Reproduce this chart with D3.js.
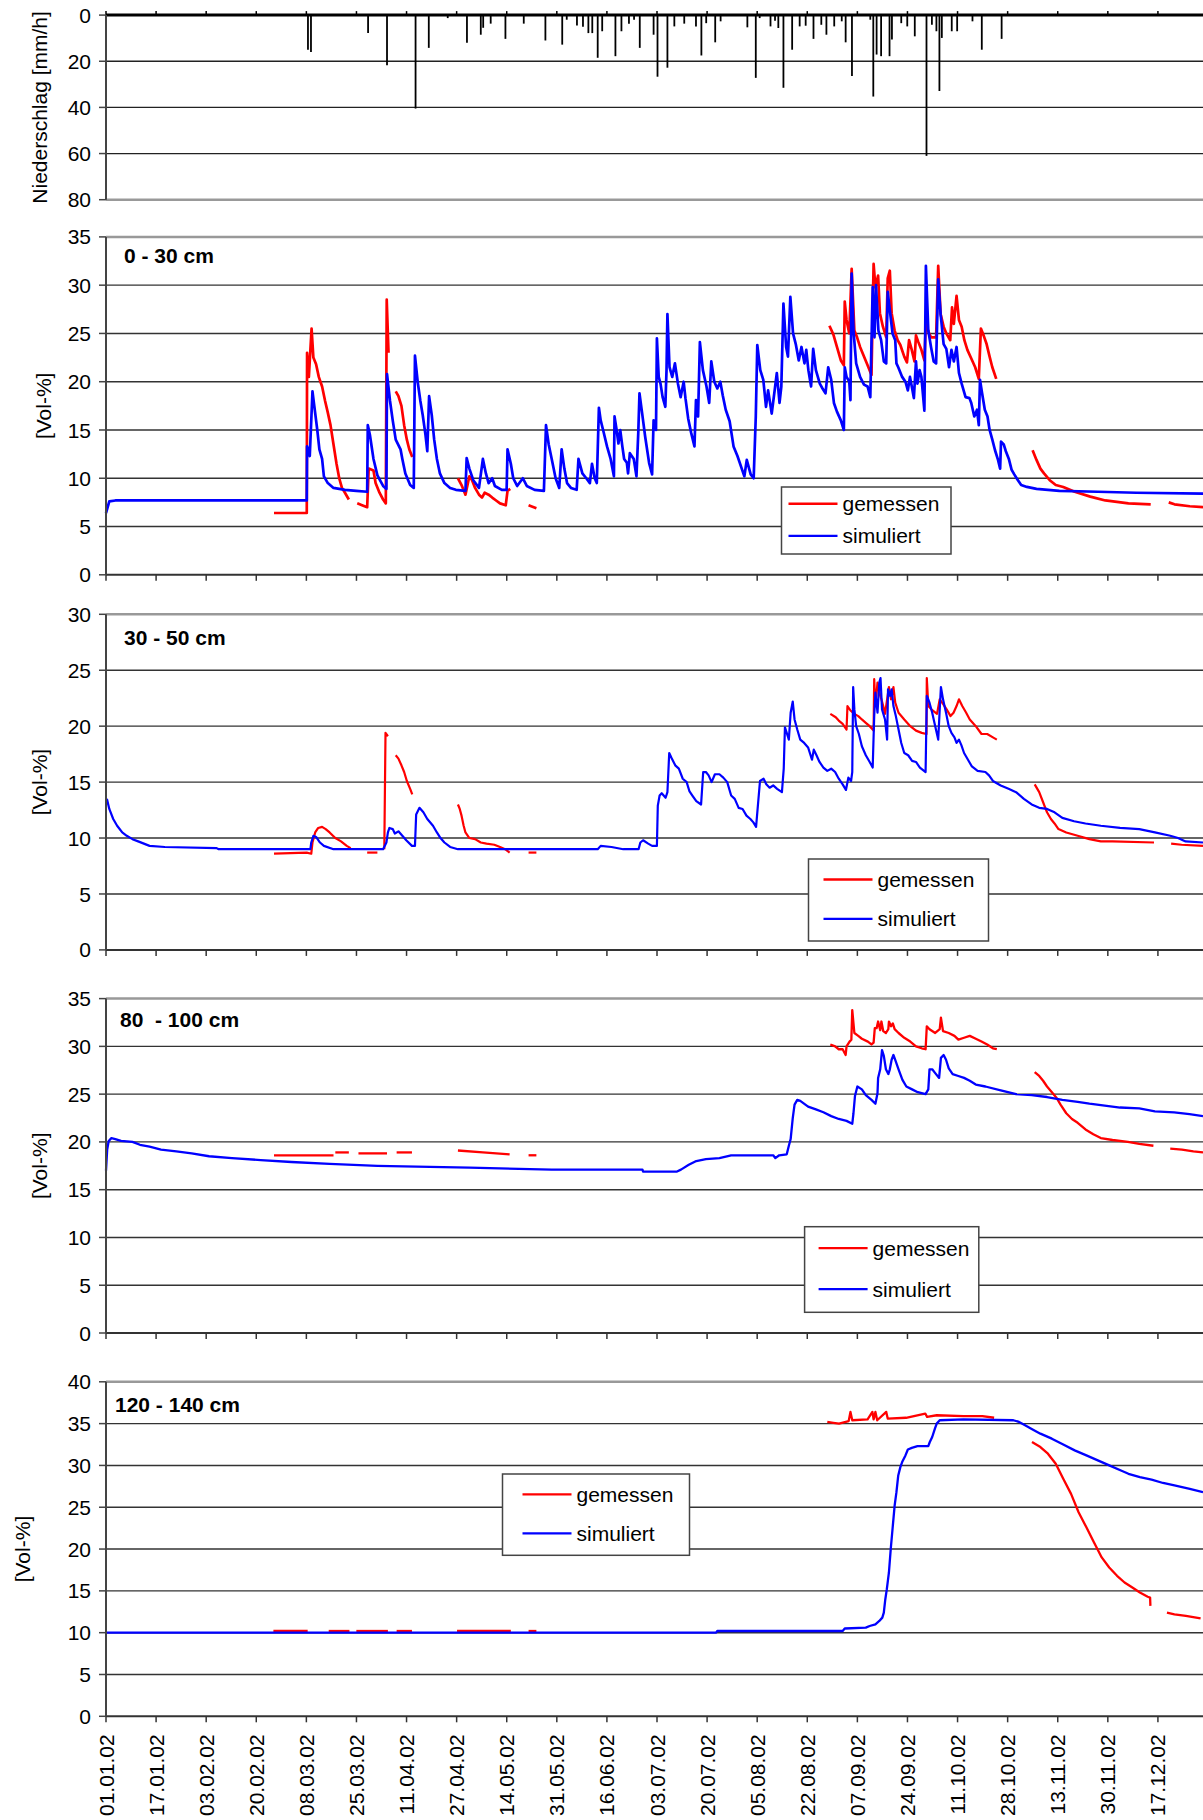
<!DOCTYPE html>
<html>
<head>
<meta charset="utf-8">
<script src="https://cdn.jsdelivr.net/npm/d3@7"></script>
<style>
  body { margin: 0; background: #fff; }
  svg { display: block; }
  text { font-family: "Liberation Sans", Arial, sans-serif; fill: #000; }
</style>
</head>
<body>
<svg id="chart" width="1203" height="1820"></svg>
<script>
// x axis: one tick every 400 hours, labels as printed
const tickLabels = ["01.01.02","17.01.02","03.02.02","20.02.02","08.03.02","25.03.02","11.04.02","27.04.02",
  "14.05.02","31.05.02","16.06.02","03.07.02","20.07.02","05.08.02","22.08.02","07.09.02","24.09.02",
  "11.10.02","28.10.02","13.11.02","30.11.02","17.12.02"];

// precipitation [day of year, mm/h]
const precip = [[67.2,15],[68.2,16],[87.2,7.8],[93.5,21.7],[103,40.5],[107.4,14.2],[113.7,1.3],[120.1,12],
  [124.7,8.5],[125.5,5.5],[128,3.7],[132.9,10.3],[139,3.7],[146.2,11],[151.8,12.8],[153.3,2],[156.7,4.5],
  [158.7,5],[160.5,7.8],[161.8,7.8],[163.6,18.5],[165.1,7],[169.5,17.8],[171.5,7],[174,3.7],[175.7,2],
  [177.6,14.2],[182.2,8.5],[183.5,26.7],[186.8,22.8],[189.1,4.9],[192.4,3.7],[196.3,4.9],[198.1,17.5],
  [199.7,3.5],[202.7,11.8],[204.5,2.7],[213.4,5.3],[216.2,27.2],[217.5,1.3],[221.1,4.9],[222.6,2.5],
  [223.7,5.6],[225.4,31.5],[228.3,15],[230.8,4.9],[232.8,4.6],[235.4,10.3],[238,4.2],[239.7,8.5],
  [242.3,4.9],[244.8,2.7],[246.1,11.8],[248.2,26.4],[254.3,2],[255.3,35.3],[256.4,17.1],[257.9,17.8],
  [260.7,17.8],[261.5,10.6],[264.6,3.5],[266.6,4.9],[269.1,9.2],[273,61],[274.8,4.2],[276.3,7],
  [277.3,32.9],[278.1,9.9],[281.4,7],[283.2,7],[288.3,2.7],[291.4,15],[298,10.3]];

// 0 - 30 cm  [day, Vol-%]
const simA = [[0,6.4],[1.1,7.6],[3.1,7.7],[66.8,7.7],[66.9,13.3],[67.8,12.3],[68.7,19.0],[69.3,17.5],[70.3,15.0],
  [71.0,13.0],[71.9,12.0],[72.5,10.2],[73.8,9.5],[75.7,9.0],[79.5,8.8],[83.3,8.7],[86.9,8.6],[87.1,15.5],
  [87.8,14.5],[89.0,12.0],[90.3,10.3],[92.2,9.2],[93.3,8.9],[93.5,20.8],[94.5,18.0],[95.4,16.0],[96.4,14.0],
  [98.0,13.0],[98.6,12.0],[99.6,10.5],[101.2,9.3],[102.4,9.0],[102.8,22.7],[103.7,20.0],[104.6,18.0],
  [105.4,16.5],[106.3,14.5],[106.9,12.8],[107.5,18.5],[108.4,16.5],[109.2,14.0],[110.1,12.0],[111.1,10.5],
  [112.6,9.5],[114.5,9.0],[116.4,8.8],[119.6,8.7],[120.0,12.1],[120.9,11.0],[122.2,9.8],[124.1,9.0],
  [125.4,12.0],[126.4,10.5],[127.3,9.5],[128.5,10.0],[129.4,9.2],[131.7,8.8],[133.3,8.8],[133.6,13.0],
  [134.7,11.5],[135.5,10.0],[136.8,9.2],[138.7,10.0],[140.0,9.2],[142.6,8.8],[145.7,8.7],[146.4,15.5],
  [147.3,13.5],[148.3,12.0],[149.6,10.0],[150.8,9.0],[151.6,13.0],[152.5,11.0],[153.4,9.5],[154.7,9.0],
  [156.6,8.8],[157.2,12.0],[158.5,10.5],[159.8,10.0],[161.0,9.5],[161.7,11.5],[162.6,10.0],[163.3,9.5],
  [164.0,17.3],[164.6,16.0],[165.4,15.0],[166.7,13.3],[167.9,12.0],[169.0,10.2],[169.2,16.4],[169.9,15.0],
  [170.5,13.6],[171.1,15.0],[171.8,13.3],[172.4,12.0],[173.3,11.6],[173.7,10.5],[174.3,12.6],[175.6,12.0],
  [176.5,10.2],[177.1,14.7],[177.5,18.8],[178.4,16.7],[179.4,14.3],[180.7,11.6],[181.7,10.4],[182.2,16.0],
  [183.0,15.0],[183.3,24.5],[183.9,20.5],[184.5,19.8],[185.2,18.4],[186.1,17.4],[186.5,21.2],[186.8,27.0],
  [187.5,21.5],[188.4,20.5],[189.3,21.9],[190.3,19.8],[191.2,18.4],[192.2,20.0],[192.8,18.3],[193.7,16.2],
  [194.7,14.7],[195.8,13.3],[196.3,18.1],[197.0,16.4],[197.6,24.1],[198.6,21.2],[199.8,19.5],[200.7,17.8],
  [201.4,22.1],[202.4,20.0],[203.4,19.3],[204.4,20.0],[205.2,18.6],[206.2,17.1],[207.5,15.9],[208.8,13.3],
  [210.1,12.3],[211.3,11.2],[212.4,10.2],[213.2,11.9],[214.5,10.4],[215.5,10.0],[216.2,16.4],[216.7,23.8],
  [217.7,21.2],[218.7,20.2],[219.6,17.4],[220.3,19.1],[221.5,16.7],[222.6,19.4],[223.2,20.9],[224.1,17.8],
  [224.7,19.5],[225.4,28.1],[226.3,23.6],[226.9,22.6],[227.7,28.8],[228.6,25.0],[229.5,23.9],[230.5,22.2],
  [231.4,23.6],[232.4,21.9],[233.0,23.3],[233.7,21.2],[234.6,19.5],[235.3,23.4],[236.2,21.2],[237.5,19.8],
  [238.4,19.3],[239.4,18.8],[240.3,21.5],[241.3,20.2],[242.2,17.8],[243.2,16.9],[244.5,16.0],[245.5,15.0],
  [245.8,21.5],[246.4,20.5],[247.3,20.0],[247.7,18.1],[248.1,31.2],[248.7,25.3],[249.6,21.9],[250.9,20.5],
  [252.2,19.7],[253.4,19.5],[254.3,18.4],[255.1,29.8],[255.7,24.6],[256.2,30.0],[257.0,25.3],[257.9,24.3],
  [258.8,22.1],[259.6,21.9],[260.1,29.3],[260.8,27.4],[261.7,25.0],[262.6,24.3],[263.0,21.9],[263.6,21.5],
  [264.9,20.5],[266.0,20.0],[266.8,19.1],[267.5,20.5],[268.1,19.5],[268.8,18.3],[269.5,22.1],[270.0,19.8],
  [270.7,21.2],[271.3,20.5],[272.3,17.0],[272.8,32.0],[273.6,25.3],[274.5,23.6],[275.4,22.1],[276.2,21.9],
  [276.9,30.6],[277.7,27.0],[278.7,23.9],[279.6,23.4],[280.5,21.5],[281.3,23.3],[282.1,22.1],[283.0,23.6],
  [283.8,20.9],[284.7,19.8],[286.0,18.4],[287.3,18.3],[287.9,17.8],[288.9,16.4],[289.8,17.1],[290.4,15.5],
  [290.8,20.2],[291.5,18.8],[292.4,17.1],[293.3,16.4],[294.0,15.0],[294.9,14.0],[295.8,12.9],[296.8,11.9],
  [297.5,11.0],[297.8,13.8],[298.7,13.5],[299.4,12.8],[300.4,12.0],[301.3,10.9],[302.2,10.4],[303.2,9.9],
  [304.5,9.3],[306.4,9.1],[309.6,8.9],[317.2,8.7],[330.0,8.6],[342.8,8.5],[365,8.4]];
const measA = [
  [[55.9,6.4],[66.8,6.4],[66.9,23.0],[67.5,20.5],[68.4,25.5],[69.0,22.5],[69.9,21.8],[70.8,20.5],[71.9,19.5],
   [72.9,18.0],[73.8,16.8],[74.7,15.5],[75.7,13.5],[76.7,11.5],[77.6,10.0],[78.5,9.0],[79.5,8.5],[80.8,7.8]],
  [[83.6,7.4],[85.2,7.2],[86.9,7.0],[87.4,11.0],[89.0,10.8],[89.7,9.5],[91.0,8.5],[92.2,7.8],[93.1,7.4],
   [93.4,28.5],[94.0,23.0]],
  [[96.4,19.0],[97.3,18.5],[98.3,17.5],[99.2,15.5],[100.1,14.0],[100.9,13.0],[101.9,12.2]],
  [[117.1,10.0],[118.3,9.3],[119.6,8.3],[120.9,10.2],[121.8,9.8],[122.8,9.0],[124.1,8.3],[125.1,8.0],
   [126.0,8.5],[127.3,8.3],[128.5,8.0],[129.8,7.7],[131.1,7.4],[133.0,7.2],[133.6,8.7],[134.5,8.9]],
  [[140.6,7.2],[143.2,6.9]],
  [[240.7,25.8],[242.0,24.9],[243.2,23.6],[244.5,22.2],[245.5,21.7],[245.8,28.3],[246.4,26.4],[247.3,25.0],
   [248.1,31.7],[249.0,25.3],[249.9,24.6],[250.9,23.6],[252.2,22.6],[253.4,21.7],[254.7,20.7],[255.4,32.2],
   [256.0,29.8],[256.9,31.0],[257.5,27.1],[258.5,25.7],[259.6,24.6],[260.1,30.7],[260.8,31.5],[261.4,27.1],
   [262.4,25.3],[263.4,24.3],[264.3,23.8],[265.6,22.6],[266.5,22.0],[267.2,24.3],[268.1,23.3],[269.0,22.1],
   [269.5,24.8],[270.3,24.1],[271.3,23.3],[272.3,22.2],[272.8,26.2],[273.6,25.2],[274.5,24.6],[276.2,24.6],
   [276.9,32.0],[277.7,27.0],[278.7,25.7],[279.6,25.0],[280.9,24.3],[281.5,27.7],[282.1,26.0],[283.0,28.9],
   [283.8,26.4],[284.7,25.7],[285.6,24.3],[286.6,23.3],[287.9,22.4],[289.2,21.5],[290.4,20.3],[291.1,25.5],
   [292.0,24.8],[293.0,23.9],[294.0,22.6],[294.9,21.5],[296.2,20.3]],
  [[308.3,12.9],[309.6,11.9],[310.9,11.0],[312.1,10.5],[314.0,9.8],[316.0,9.3],[318.5,9.1],[322.3,8.6],
   [327.5,8.1],[332.5,7.7],[340.2,7.4],[347.6,7.3]],
  [[353.6,7.5],[355.5,7.3],[360.6,7.1],[365,7.0]]
];

// 30 - 50 cm
const simB = [[0.3,13.5],[1.1,12.6],[2.4,11.7],[3.7,11.1],[5.4,10.5],[6.9,10.2],[8.8,9.9],[10.7,9.7],[12.6,9.5],
  [14.5,9.3],[19.6,9.2],[36.8,9.1],[37.5,9.0],[68.0,9.0],[68.3,9.6],[69.0,10.2],[69.9,10.1],[71.2,9.6],
  [72.5,9.3],[75.7,9.0],[92.2,9.0],[93.3,9.6],[93.8,10.5],[94.3,10.9],[95.4,10.8],[96.1,10.4],[97.3,10.6],
  [98.6,10.2],[99.9,9.8],[101.8,9.3],[102.8,9.3],[103.2,12.1],[104.3,12.7],[105.6,12.3],[106.9,11.7],
  [108.8,11.1],[110.1,10.5],[111.3,10.0],[112.6,9.6],[114.5,9.2],[117.1,9.0],[163.6,9.0],[164.6,9.3],
  [168.2,9.2],[172.1,9.0],[177.2,9.0],[177.8,9.6],[178.7,9.8],[180.4,9.5],[181.7,9.3],[183.3,9.3],
  [183.6,12.9],[184.2,13.8],[184.9,14.0],[186.2,13.6],[186.8,14.1],[187.4,17.6],[188.1,17.2],[189.4,16.5],
  [190.6,16.2],[191.9,15.3],[193.2,15.0],[194.1,14.2],[195.1,13.8],[196.4,13.3],[198.0,13.0],[198.7,15.9],
  [199.6,15.9],[200.5,15.6],[201.5,15.0],[202.6,15.7],[204.1,15.7],[205.4,15.4],[206.7,15.0],[208.0,13.8],
  [209.2,13.5],[210.5,12.7],[211.8,12.6],[213.1,12.0],[214.4,11.7],[215.4,11.4],[216.3,11.0],[216.9,12.9],
  [217.6,15.1],[218.8,15.3],[219.7,14.8],[220.8,14.5],[222.0,14.7],[223.3,14.4],[224.9,14.1],[225.5,16.2],
  [225.9,19.9],[226.5,19.4],[227.2,18.8],[227.8,21.2],[228.5,22.2],[229.1,20.6],[230.0,19.7],[231.0,18.8],
  [232.3,18.5],[233.6,18.1],[234.9,17.0],[235.5,17.9],[236.4,17.4],[237.4,16.8],[238.7,16.3],[240.0,16.0],
  [241.3,16.2],[242.6,15.9],[243.8,15.3],[245.1,14.8],[246.2,14.3],[247.0,15.4],[247.9,15.1],[248.3,15.9],
  [248.6,23.5],[249.0,21.5],[249.6,20.0],[250.5,19.3],[251.5,18.2],[252.8,17.4],[254.1,16.8],[255.1,16.3],
  [255.6,20.9],[256.0,23.0],[256.7,21.2],[257.3,23.9],[257.7,24.3],[258.2,21.5],[259.2,20.6],[259.9,18.8],
  [260.2,23.3],[260.9,22.7],[261.4,23.3],[262.0,21.8],[262.8,20.9],[263.7,19.7],[264.6,18.5],[265.6,17.6],
  [266.9,17.4],[268.2,16.9],[269.5,16.8],[270.8,16.3],[272.7,15.9],[273.1,22.7],[273.3,22.6],[274.0,22.1],
  [274.9,21.2],[275.9,20.0],[276.9,18.8],[277.4,21.5],[277.8,23.5],[278.5,22.4],[279.5,21.2],[280.4,20.0],
  [281.3,19.4],[282.3,19.0],[283.0,18.5],[283.8,18.8],[284.6,18.3],[285.5,17.6],[286.8,17.0],[288.1,16.4],
  [290.0,16.0],[292.6,15.9],[293.8,15.6],[295.1,15.1],[297.7,14.7],[300.3,14.4],[302.8,14.1],[305.4,13.5],
  [308.0,13.0],[310.5,12.7],[313.1,12.6],[315.6,12.3],[318.2,11.8],[322.1,11.5],[325.9,11.3],[331.0,11.1],
  [337.4,10.9],[343.8,10.8],[349.0,10.5],[354.1,10.2],[356.7,10.0],[359.2,9.7],[365,9.6]];
const measB = [
  [[55.9,8.6],[66.8,8.7],[68.3,8.6],[68.7,9.6],[69.6,10.5],[70.6,10.9],[71.9,11.0],[73.1,10.8],[74.4,10.5],
   [76.3,10.0],[78.2,9.7],[80.1,9.3],[81.4,9.1]],
  [[86.9,8.7],[90.3,8.7]],
  [[92.6,9.0],[93.0,19.4],[93.8,19.1]],
  [[96.4,17.4],[97.3,17.1],[98.3,16.5],[99.2,15.9],[100.1,15.1],[101.2,14.4],[101.9,13.9]],
  [[117.1,13.0],[117.7,12.6],[118.3,12.0],[119.0,11.1],[119.6,10.5],[120.9,10.0],[122.8,9.9],[124.7,9.6],
   [126.6,9.5],[129.2,9.4],[131.1,9.2],[132.8,9.0],[134.3,8.7]],
  [[140.6,8.7],[143.2,8.7]],
  [[241.0,21.1],[242.8,20.8],[243.8,20.5],[245.1,20.2],[246.4,19.7],[246.7,21.8],[247.7,21.4],[249.0,21.1],
   [250.3,20.9],[251.5,20.6],[252.8,20.3],[254.1,20.0],[255.4,19.6],[255.6,24.2],[256.0,21.8],[256.7,23.9],
   [257.3,23.0],[258.0,22.4],[258.6,21.8],[259.2,21.1],[260.5,23.5],[261.2,22.4],[262.0,23.5],[262.6,22.1],
   [263.7,21.2],[265.6,20.6],[267.6,20.0],[269.5,19.6],[271.4,19.4],[273.0,19.3],[273.1,24.3],[273.6,21.8],
   [274.6,21.5],[276.5,21.1],[277.4,22.4],[278.5,22.0],[279.7,21.5],[281.0,20.9],[282.0,21.2],[283.0,21.8],
   [283.8,22.4],[284.9,21.8],[286.2,21.2],[287.4,20.6],[289.4,20.0],[291.3,19.3],[293.2,19.3],[295.1,19.0],
   [296.4,18.8]],
  [[309.0,14.8],[310.5,14.1],[311.8,13.2],[313.1,12.3],[314.4,11.7],[315.6,11.3],[316.9,10.8],[319.5,10.5],
   [323.3,10.2],[327.2,9.9],[331.0,9.7],[334.9,9.7],[348.7,9.6]],
  [[354.4,9.5],[357.9,9.4],[365,9.3]]
];

// 80 - 100 cm
const simC = [[0,17.0],[0.4,19.2],[0.9,20.1],[1.8,20.4],[3.1,20.3],[5.0,20.1],[8.8,20.0],[11.3,19.7],[14.5,19.5],
  [18.3,19.2],[23.4,19.0],[28.5,18.8],[34.3,18.5],[41.9,18.3],[51.5,18.1],[61.7,17.9],[74.4,17.7],[90.3,17.5],
  [120.9,17.3],[148.3,17.1],[178.5,17.1],[178.7,16.9],[190.0,16.9],[191.3,17.1],[193.9,17.6],[196.4,18.0],
  [199.6,18.2],[204.1,18.3],[208.0,18.6],[222.0,18.6],[222.7,18.3],[224.0,18.6],[226.5,18.7],[227.2,19.6],
  [227.8,20.3],[228.5,22.5],[229.1,23.9],[230.0,24.4],[231.0,24.3],[233.6,23.7],[236.2,23.4],[238.7,23.1],
  [241.3,22.7],[243.8,22.4],[246.4,22.2],[248.3,21.9],[248.7,23.0],[249.2,24.8],[250.0,25.8],[251.5,25.5],
  [252.8,24.9],[254.7,24.4],[256.0,24.0],[256.7,25.1],[256.9,26.7],[257.6,27.6],[258.2,29.6],[258.8,29.0],
  [259.5,27.6],[260.3,27.1],[260.8,27.6],[261.4,28.6],[262.0,29.1],[262.8,28.4],[263.7,27.6],[265.0,26.5],
  [266.3,25.8],[268.2,25.5],[270.1,25.2],[272.7,25.0],[273.6,25.5],[274.0,27.6],[274.9,27.6],[275.9,27.2],
  [277.2,26.7],[277.8,28.8],[278.7,29.1],[279.5,28.6],[280.4,27.7],[281.7,27.1],[283.6,26.9],[285.5,26.7],
  [287.4,26.4],[289.4,26.0],[292.6,25.8],[297.7,25.4],[302.8,25.0],[308.0,24.9],[313.1,24.7],[318.2,24.4],
  [323.3,24.2],[327.2,24.0],[332.3,23.8],[337.4,23.6],[343.8,23.5],[349.0,23.2],[355.4,23.1],[360.5,22.9],
  [365,22.7]];
const measC = [
  [[55.9,18.6],[75.7,18.6]],
  [[76.3,18.9],[80.8,18.9]],
  [[84.0,18.8],[93.5,18.8]],
  [[96.7,18.9],[101.8,18.9]],
  [[117.1,19.1],[125.4,18.9],[134.3,18.7]],
  [[140.6,18.6],[143.2,18.6]],
  [[241.0,30.2],[242.6,30.0],[243.8,29.7],[245.1,29.7],[246.1,29.1],[246.4,30.0],[247.4,30.5],[248.0,30.7],
   [248.3,33.8],[249.0,31.4],[250.3,31.1],[251.5,30.8],[253.5,30.5],[254.7,30.2],[255.4,30.4],[255.8,31.9],
   [256.4,31.9],[256.9,32.6],[257.6,31.7],[258.0,32.6],[258.6,31.6],[259.5,31.4],[260.3,31.8],[260.5,32.6],
   [261.2,32.1],[261.8,32.4],[262.4,31.8],[263.7,31.4],[265.6,30.9],[267.6,30.5],[269.5,30.0],[271.4,29.8],
   [272.7,29.7],[273.1,32.1],[274.0,31.8],[275.9,31.4],[277.4,31.8],[277.8,33.0],[278.5,31.6],[280.4,31.4],
   [282.3,31.1],[283.6,30.7],[285.5,30.9],[287.4,31.1],[289.4,30.8],[291.3,30.5],[293.2,30.2],[295.1,29.8],
   [296.4,29.7]],
  [[309.0,27.3],[310.5,26.9],[311.8,26.4],[313.1,25.8],[315.0,25.1],[316.3,24.6],[317.6,23.9],[319.5,23.0],
   [321.4,22.4],[323.3,22.0],[325.9,21.3],[328.5,20.8],[331.0,20.4],[334.9,20.2],[340.0,20.0],[343.8,19.8],
   [348.5,19.6]],
  [[354.1,19.3],[358.0,19.2],[361.8,19.0],[365,18.9]]
];

// 120 - 140 cm
const simD = [[0,10.0],[203.0,10.0],[203.4,10.2],[245.1,10.2],[245.8,10.5],[252.8,10.6],[254.1,10.8],[256.0,11.0],
  [257.3,11.4],[258.3,11.8],[258.8,12.4],[259.3,14.0],[259.8,15.2],[260.5,17.2],[261.1,20.0],[261.7,22.4],
  [262.4,25.2],[263.0,26.8],[263.6,28.8],[264.3,29.8],[264.9,30.4],[266.0,31.2],[266.8,31.9],[268.1,32.1],
  [270.0,32.3],[273.6,32.3],[274.1,32.8],[274.9,33.4],[275.8,34.4],[276.4,35.0],[277.4,35.4],[285.3,35.5],
  [301.9,35.4],[303.8,35.2],[305.8,34.8],[308.3,34.3],[310.9,33.8],[314.7,33.2],[318.5,32.5],[322.3,31.8],
  [326.2,31.2],[330.0,30.6],[333.8,30.0],[337.7,29.4],[340.2,29.0],[344.0,28.6],[347.9,28.3],[351.7,27.9],
  [355.5,27.6],[360.6,27.2],[365,26.8]];
const measD = [
  [[55.7,10.2],[67.1,10.2]],
  [[74.1,10.2],[81.0,10.2]],
  [[83.3,10.2],[93.8,10.2]],
  [[96.7,10.2],[101.8,10.2]],
  [[116.8,10.2],[134.7,10.2]],
  [[140.6,10.2],[143.2,10.2]],
  [[240.0,35.2],[242.0,35.1],[243.9,35.0],[247.1,35.3],[247.7,36.4],[248.3,35.4],[253.4,35.5],[255.0,36.4],
   [255.4,35.5],[256.0,36.4],[256.6,35.4],[259.6,36.4],[260.1,35.6],[266.2,35.7],[272.6,36.2],[273.2,35.8],
   [276.4,36.0],[285.3,35.9],[291.6,35.9],[295.5,35.7]],
  [[308.1,32.8],[310.9,32.2],[313.4,31.4],[316.0,30.2],[318.5,28.4],[321.1,26.6],[323.6,24.4],[326.2,22.6],
   [328.7,20.8],[331.3,19.0],[333.8,17.8],[336.4,16.8],[338.9,16.0],[341.5,15.4],[344.0,14.8],[346.6,14.3],
   [347.4,14.2],[347.5,13.2]],
  [[353.0,12.4],[355.5,12.2],[359.3,12.0],[364.2,11.7]]
];

const seriesNames = ["gemessen", "simuliert"];
const seriesColors = ["#ff0000", "#0000ff"];

const svg = d3.select("#chart");
const x0 = 106, x1 = 1203;
const x = d3.scaleLinear().domain([0, 365]).range([x0, x1]);
const tickDays = tickLabels.map((d, i) => i * 400 / 24);

function yAxisLeft(g, y, values) {
  g.append("line").attr("x1", x0).attr("x2", x0)
    .attr("y1", y.range()[0]).attr("y2", y.range()[1])
    .attr("stroke", "#444").attr("stroke-width", 2);
  values.forEach(v => {
    g.append("line").attr("x1", x0 - 7).attr("x2", x0).attr("y1", y(v)).attr("y2", y(v))
      .attr("stroke", "#444").attr("stroke-width", 1.5);
    g.append("text").attr("x", 91).attr("y", y(v)).attr("dy", "0.36em")
      .attr("text-anchor", "end").attr("font-size", 21).text(v);
  });
}

function yTitle(g, text, cx, cy) {
  g.append("text").attr("transform", `translate(${cx},${cy}) rotate(-90)`)
    .attr("dy", "0.35em").attr("text-anchor", "middle").attr("font-size", 21).text(text);
}

// ---- precipitation panel (inverted axis) ----
{
  const g = svg.append("g");
  const y = d3.scaleLinear().domain([0, 80]).range([15.1, 199.7]);
  const vals = d3.range(0, 81, 20);
  vals.forEach(v => {
    g.append("line").attr("x1", x0).attr("x2", x1).attr("y1", y(v)).attr("y2", y(v))
      .attr("stroke", v === 80 ? "#999" : "#222").attr("stroke-width", v === 80 ? 2.5 : 1.3);
  });
  g.selectAll(".bar").data(precip).join("line")
    .attr("x1", d => x(d[0])).attr("x2", d => x(d[0]))
    .attr("y1", y(0)).attr("y2", d => y(d[1]))
    .attr("stroke", "#000").attr("stroke-width", 1.8);
  g.append("line").attr("x1", x0).attr("x2", x1).attr("y1", y(0)).attr("y2", y(0))
    .attr("stroke", "#000").attr("stroke-width", 3);
  tickDays.forEach(t => {
    g.append("line").attr("x1", x(t)).attr("x2", x(t)).attr("y1", y(0) - 4).attr("y2", y(0))
      .attr("stroke", "#000").attr("stroke-width", 1.5);
  });
  yAxisLeft(g, y, vals);
  yTitle(g, "Niederschlag [mm/h]", 40, (y(0) + y(80)) / 2);
}

// ---- soil moisture panels ----
const panels = [
  { label: "0 - 30 cm", yMax: 35, top: 236.9, bottom: 574.8, sim: simA, meas: measA, lw: 2.7,
    labelPos: [124, 263], titleX: 44, legend: [781.5, 487, 169.5, 67, 7] },
  { label: "30 - 50 cm", yMax: 30, top: 614.3, bottom: 949.9, sim: simB, meas: measB, lw: 2.2,
    labelPos: [124, 645], titleX: 40, legend: [808.5, 859, 180, 82, 15] },
  { label: "80  - 100 cm", yMax: 35, top: 998.6, bottom: 1333, sim: simC, meas: measC, lw: 2.3,
    labelPos: [120, 1027], titleX: 40, legend: [804.6, 1226.7, 174.2, 85.6, 14] },
  { label: "120 - 140 cm", yMax: 40, top: 1381.8, bottom: 1716.3, sim: simD, meas: measD, lw: 2.3,
    labelPos: [115, 1412], titleX: 23, legend: [502.5, 1474, 187, 81.3, 20] }
];

panels.forEach((p, pi) => {
  const g = svg.append("g");
  const y = d3.scaleLinear().domain([0, p.yMax]).range([p.bottom, p.top]);
  const vals = d3.range(0, p.yMax + 1, 5);

  vals.forEach(v => {
    if (v === 0) return;
    const isTop = v === p.yMax;
    g.append("line").attr("x1", x0).attr("x2", x1).attr("y1", y(v)).attr("y2", y(v))
      .attr("stroke", isTop ? "#999" : "#333").attr("stroke-width", isTop ? 2.5 : 1.4);
  });

  const line = d3.line().x(d => x(d[0])).y(d => y(d[1]));
  p.meas.forEach(seg => {
    g.append("path").attr("d", line(seg)).attr("fill", "none")
      .attr("stroke", seriesColors[0]).attr("stroke-width", p.lw).attr("stroke-linejoin", "round");
  });
  g.append("path").attr("d", line(p.sim)).attr("fill", "none")
    .attr("stroke", seriesColors[1]).attr("stroke-width", p.lw).attr("stroke-linejoin", "round");

  // x axis at the bottom
  g.append("line").attr("x1", x0).attr("x2", x1).attr("y1", y(0)).attr("y2", y(0))
    .attr("stroke", "#333").attr("stroke-width", 2);
  tickDays.forEach(t => {
    g.append("line").attr("x1", x(t)).attr("x2", x(t)).attr("y1", y(0)).attr("y2", y(0) + 6)
      .attr("stroke", "#333").attr("stroke-width", 1.5);
  });
  yAxisLeft(g, y, vals);
  yTitle(g, "[Vol-%]", p.titleX, (p.top + p.bottom) / 2);

  g.append("text").attr("x", p.labelPos[0]).attr("y", p.labelPos[1])
    .attr("font-size", 21).attr("font-weight", "bold").style("white-space", "pre").text(p.label);

  // legend
  const [lx, ly, lw, lh, lo] = p.legend;
  const lg = g.append("g");
  lg.append("rect").attr("x", lx).attr("y", ly).attr("width", lw).attr("height", lh)
    .attr("fill", "#fff").attr("stroke", "#444").attr("stroke-width", 1.5);
  seriesNames.forEach((name, i) => {
    const yy = ly + lh * (i === 0 ? 0.25 : 0.73);
    lg.append("line").attr("x1", lx + lo).attr("x2", lx + lo + 49).attr("y1", yy).attr("y2", yy)
      .attr("stroke", seriesColors[i]).attr("stroke-width", 2.3);
    lg.append("text").attr("x", lx + lo + 54).attr("y", yy).attr("dy", "0.36em")
      .attr("font-size", 21).text(name);
  });

  // date labels only under the last panel
  if (pi === panels.length - 1) {
    tickDays.forEach((t, i) => {
      g.append("text").attr("transform", `translate(${x(t)},${y(0) + 18}) rotate(-90)`)
        .attr("dy", "0.36em").attr("text-anchor", "end").attr("font-size", 21).text(tickLabels[i]);
    });
  }
});
</script>
</body>
</html>
